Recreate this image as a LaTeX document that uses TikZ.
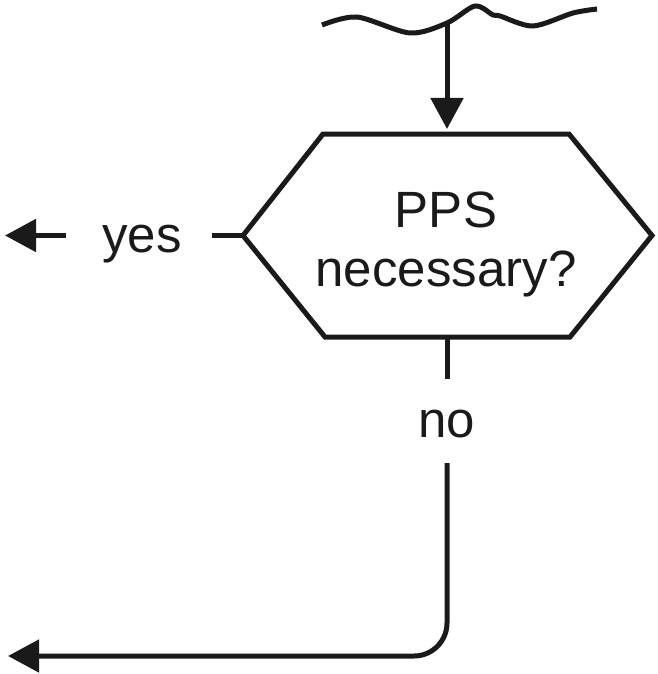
\documentclass[tikz,border=0pt]{standalone}
\usepackage{fontspec}
\setmainfont{Liberation Sans}
\usetikzlibrary{arrows.meta,positioning,calc}
\definecolor{inkblack}{RGB}{26,26,26}

\begin{document}
\begin{tikzpicture}[x=1pt,y=-1pt,line width=5pt,draw=inkblack,
    lbl/.style={font=\fontsize{51}{59}\selectfont,inner sep=0pt,text=inkblack,align=center},
    flow/.style={-{Triangle[length=31pt,width=32pt]}}]
        \useasboundingbox (0,0) rectangle (657,674);
        % hexagon corners
        \coordinate (hexW) at (243,235.5);
        \coordinate (hexE) at (652,235.5);
        \coordinate (hexN) at (447,134);
        \coordinate (hexS) at (447,337);
        \draw[line join=miter] (hexW) -- (323,134) -- (569,134) -- (hexE) -- (570,337) -- (325,337) -- cycle;
        \node[lbl] (ask) at (446,244.5) {PPS\\necessary?};
        % incoming flow
        \draw plot[smooth] coordinates {(322,25) (357,17) (410,33) (447,23) (475,6) (493,15) (500,16) (533,26) (573,13) (597,9)};
        \coordinate (src) at (447,23);
        \draw[flow] (src) -- ($(hexN)+(0,-5)$);
        % yes branch
        \node[lbl,anchor=base] (yes) at (142,252) {yes};
        \coordinate (yesEnd) at (5,235.5);
        \draw (hexW) -- ($(yes.east |- hexW)+(28,0)$);
        \draw[flow] ($(yes.west |- hexW)+(-34,0)$) -- (yesEnd);
        % no branch
        \node[lbl,anchor=base] (no) at (446.5,437) {no};
        \coordinate (noEnd) at (8,656);
        \draw (hexS) -- ($(no.north -| hexS)+(0,-28)$);
        \draw[flow,rounded corners=33pt] ($(no.south -| hexS)+(0,23)$) -- (hexS |- noEnd) -- (noEnd);
    \end{tikzpicture}
\end{document}
